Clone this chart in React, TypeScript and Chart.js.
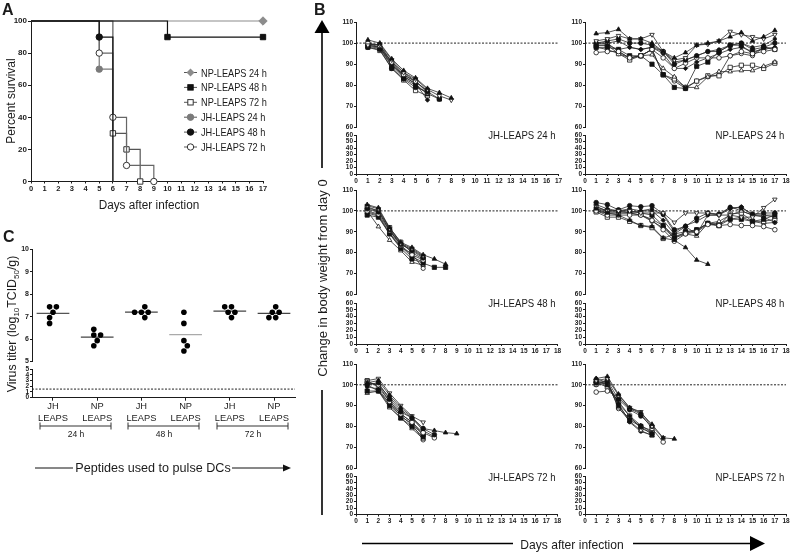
import React, { useEffect, useRef } from 'react';
import { Chart, registerables } from 'chart.js';

Chart.register(...registerables);

const PAGE_W = 791;
const PAGE_H = 555;
const FONT = '"Liberation Sans", Arial, Helvetica, sans-serif';
const INK = '#1b1b1b';

// ================= Panel A: survival (Kaplan-Meier) =================
const survivalLabels = ['NP-LEAPS 24 h', 'NP-LEAPS 48 h', 'NP-LEAPS 72 h', 'JH-LEAPS 24 h', 'JH-LEAPS 48 h', 'JH-LEAPS 72 h'];
const npLeaps24Days = [0, 17];
const npLeaps24Survival = [100, 100];
const npLeaps48Days = [0, 10, 17];
const npLeaps48Survival = [100, 90, 90];
const npLeaps72Days = [0, 6, 7, 8];
const npLeaps72Survival = [100, 30, 20, 0];
const jhLeaps24Days = [0, 5, 6];
const jhLeaps24Survival = [100, 70, 0];
const jhLeaps48Days = [0, 5, 6];
const jhLeaps48Survival = [100, 90, 0];
const jhLeaps72Days = [0, 5, 6, 7, 9];
const jhLeaps72Survival = [100, 80, 40, 10, 0];
const survivalMaxDay = 17;

// ================= Panel C: virus titers =================
const titerGroups = ['JH LEAPS', 'NP LEAPS', 'JH LEAPS', 'NP LEAPS', 'JH LEAPS', 'NP LEAPS'];
const titerTimepoints = ['24 h', '48 h', '72 h'];
const titerJH24 = [7.44, 7.2, 7.44, 6.96, 6.7];
const titerNP24 = [6.18, 6.18, 6.44, 5.93, 5.7];
const titerJH48 = [7.2, 7.44, 7.2, 6.96, 7.2];
const titerNP48 = [7.2, 6.7, 5.93, 5.7, 5.47];
const titerJH72 = [7.2, 7.44, 7.44, 6.96, 7.2];
const titerNP72 = [7.2, 7.44, 6.96, 6.96, 7.2];
const detectionLimit = 1.5;

// ================= Panel B: body weight (% of day 0), day 1 onward =================
const jhLeaps24Weights = [
  [101.5, 100, 92.5, 87, 83.5, 78.5, 76.5, 74],
  [99, 99.5, 92, 86, 83, 78, 75, 73],
  [98, 97, 88, 83, 79, 77, 73.5],
  [100, 98, 91, 85, 82, 76.5],
  [99, 98, 90, 84, 81, 73],
  [98.5, 97.5, 89, 83.5, 80, 76, 73.5],
  [99.5, 99, 91, 86, 82, 77],
  [98, 96.5, 88, 82.5, 77.5, 75],
  [100, 99, 90.5, 84.5, 80.5, 76],
  [99, 98, 89.5, 85, 81.5, 77.5],
];
const npLeaps24Weights = [
  [104.5, 105, 106.5, 102, 102, 100, 96, 93, 95.5, 99, 100, 101, 103, 105, 101, 103, 106],
  [101, 102, 103.5, 102, 102, 104, 96, 92, 93, 99, 99.5, 101, 105.5, 104, 103, 102, 104],
  [100, 101, 102, 100, 100, 99, 96, 90, 92, 94, 96, 96, 99, 100, 97, 98, 100],
  [95.5, 96, 96, 93, 94, 97, 93, 88, 90.5, 93, 93, 93, 94, 96, 95, 96, 97],
  [99, 99, 97, 98, 97, 98, 95, 88, 88, 91, 93, 95, 97, 98, 96, 97, 98],
  [98, 98, 97, 94, 94, 90, 85, 79, 78.5, 89, 91, 96, 99, 99, 95, 98, 97],
  [100, 100, 96, 93, 94, 94.5, 88, 84, 79, 79, 84, 86.5, 86.5, 87, 87, 89, 91],
  [99, 99, 95, 92, 94, 97, 85, 83, 79, 82, 84.5, 84.5, 88.5, 89.5, 89.5, 88, 90.5],
  [98, 97, 95, 93, 94, 97, 85, 82, 78.5, 82, 84, 85, 94, 95, 94, 98, 97.5],
  [100, 100, 101, 98, 97, 98, 96, 91, 92, 94, 96, 97, 99, 100, 98, 99, 102],
];
const jhLeaps48Weights = [
  [103, 101.5, 92, 85, 82.5, 79, 77, 74.5],
  [102.5, 101, 91.5, 84.5, 82, 78.5],
  [101, 99.5, 91, 84, 81, 77.5],
  [100, 98.5, 90.5, 83.5, 79, 76.5],
  [99.5, 98, 89.5, 83, 78, 75.5],
  [98, 97, 89, 82, 77, 75, 73, 73],
  [100, 92.5, 86, 81, 75.5, 74],
  [101.5, 100, 92, 85, 80, 77],
  [99, 97.5, 89, 82.5, 79.5, 72.5],
  [102, 100, 90.5, 84, 81.5, 78],
];
const npLeaps48Weights = [
  [101, 99, 98, 95.5, 93, 92.5, 87, 86, 82.5, 76.5, 74.5],
  [102, 100, 100, 100, 99, 99, 99, 94.5, 99, 99, 99, 98, 98, 97, 97, 101.5, 105.5],
  [104, 103, 100.5, 102.5, 102, 102.5, 98.5, 91, 92.5, 96.5, 99, 98.5, 101.5, 101.5, 98.5, 99, 99],
  [100, 98, 98, 98, 98, 95.5, 91, 85.5, 89, 90, 93.5, 93, 93.5, 93, 93, 92.5, 91],
  [103, 101, 100, 99, 100, 100, 95.5, 89, 92.5, 89, 98, 98, 101, 102, 98, 97, 94.5],
  [101, 100, 100, 100, 99, 98, 93, 87, 90, 91, 94, 93, 96, 96, 95, 96, 98],
  [100, 99, 99, 99, 98, 96, 93, 88, 89, 88, 94, 95, 98, 100, 98, 98, 97],
  [99.5, 97, 97, 95, 93, 92, 86.8, 89, 90, 90.5, 94, 93, 98.5, 99, 95, 95, 96],
  [100, 99, 99, 99, 98, 95, 92, 87, 89, 91, 94, 94, 96, 97, 95, 94, 94.5],
  [102, 100, 100, 101, 100, 101, 98, 90, 93, 95, 98, 98, 102, 100, 98, 98, 98],
];
const jhLeaps72Weights = [
  [101, 102, 95, 89, 84.5, 79, 78, 77, 76.5],
  [102, 103, 96, 90, 85, 82],
  [100, 101, 93, 87, 84, 79, 76],
  [101, 100, 92, 86, 82, 77, 74.5],
  [99, 98, 91, 85, 81, 76],
  [97, 97, 90, 84, 80, 75],
  [96, 97, 89, 84, 79, 74],
  [102, 99, 92, 86, 82, 76],
  [100, 97, 91, 85, 81, 73.5],
  [101, 100, 94, 88, 84, 78, 75],
];
const npLeaps72Weights = [
  [103, 104, 95.5, 89, 86.5, 81, 74.5, 74],
  [102, 103, 95, 89, 87, 80, 74.5],
  [101, 102, 93, 88, 85, 80],
  [96.5, 97, 94, 88.5, 86, 79, 72.5],
  [101, 101, 91, 85, 80.5, 77],
  [102, 100, 90, 83, 80, 76],
  [100, 101, 89, 82.5, 78, 75.5],
  [101, 99, 92, 85, 79, 77],
  [100, 102, 88.5, 84, 80, 78],
  [103, 101, 91, 82, 77.5, 76],
];
const weightPanelTitles = ['JH-LEAPS 24 h', 'NP-LEAPS 24 h', 'JH-LEAPS 48 h', 'NP-LEAPS 48 h', 'JH-LEAPS 72 h', 'NP-LEAPS 72 h'];
const weightPanelData = [jhLeaps24Weights, npLeaps24Weights, jhLeaps48Weights, npLeaps48Weights, jhLeaps72Weights, npLeaps72Weights];
const weightPanelLastDay = [17, 18, 18, 18, 18, 18];
const baselineWeight = 100;

// ================= layout & style (not data) =================
type Area = { left: number; top: number; right: number; bottom: number };

const areaA: Area = { left: 31, top: 21, right: 263, bottom: 181.5 };
const areaCUpper: Area = { left: 32, top: 249.5, right: 295, bottom: 361.5 };
const areaCLower: Area = { left: 32, top: 369, right: 295, bottom: 397.7 };
const bCols = [
  { left: 356, right: 557.5 },
  { left: 585, right: 786 },
];
const bRows = [
  { upper: [22, 127.5], lower: [135, 174], labelY: 134.5 },
  { upper: [190, 294.5], lower: [303, 344], labelY: 303 },
  { upper: [364, 468], lower: [476, 514.5], labelY: 476.5 },
];
const bLabelRight = [556, 784];

const survivalStyle = [
  { line: '#8c8c8c', point: 'rectRot', fill: '#8c8c8c', stroke: '#8c8c8c', r: 4.2, markLast: true },
  { line: '#111', point: 'rect', fill: '#111', stroke: '#111', r: 3.8, markLast: true },
  { line: '#555', point: 'rect', fill: '#fff', stroke: '#333', r: 3.8, markLast: true },
  { line: '#7a7a7a', point: 'circle', fill: '#7a7a7a', stroke: '#7a7a7a', r: 3.2, markLast: false },
  { line: '#111', point: 'circle', fill: '#111', stroke: '#111', r: 3.2, markLast: false },
  { line: '#666', point: 'circle', fill: '#fff', stroke: '#333', r: 3.2, markLast: true },
];
const meanColors = ['#555', '#444', '#444', '#aaa', '#444', '#444'];

const markerCycle = [
  { style: 'triangle', filled: true, r: 2.6, rot: 0 },
  { style: 'triangle', filled: false, r: 2.6, rot: 180 },
  { style: 'circle', filled: true, r: 2.3, rot: 0 },
  { style: 'circle', filled: false, r: 2.3, rot: 0 },
  { style: 'rectRot', filled: true, r: 2.2, rot: 0 },
  { style: 'rect', filled: true, r: 3.0, rot: 0 },
  { style: 'triangle', filled: false, r: 2.6, rot: 0 },
  { style: 'rect', filled: false, r: 3.0, rot: 0 },
  { style: 'circle', filled: false, r: 2.1, rot: 0 },
  { style: 'circle', filled: true, r: 1.7, rot: 0 },
];

function layoutPadding(a: Area, yW: number, xH: number) {
  return { left: a.left - yW, top: a.top, right: PAGE_W - a.right, bottom: PAGE_H - a.bottom - xH };
}

function yAxis(min: number, max: number, step: number, width: number, size: number, tickLen: number) {
  return {
    type: 'linear',
    position: 'left',
    min,
    max,
    afterFit: (s: any) => {
      s.width = width;
    },
    ticks: { stepSize: step, autoSkip: false, padding: 1, color: INK, font: { family: FONT, size, weight: 'bold' } },
    grid: { drawOnChartArea: false, drawTicks: true, tickLength: tickLen, color: INK, lineWidth: 1 },
    border: { display: true, color: INK, width: 1 },
  };
}

function xAxis(min: number, max: number, height: number, size: number, tickLen: number, visible: boolean) {
  return {
    type: 'linear',
    position: 'bottom',
    min,
    max,
    display: visible,
    afterFit: (s: any) => {
      s.height = height;
    },
    ticks: {
      stepSize: 1,
      autoSkip: false,
      maxRotation: 0,
      minRotation: 0,
      padding: 1,
      color: INK,
      font: { family: FONT, size, weight: 'bold' },
    },
    grid: { drawOnChartArea: false, drawTicks: true, tickLength: tickLen, color: INK, lineWidth: 1 },
    border: { display: true, color: INK, width: 1 },
  };
}

function baseOptions(area: Area, yW: number, xH: number, scales: any) {
  return {
    responsive: false,
    animation: false,
    devicePixelRatio: 1,
    events: [],
    layout: { padding: layoutPadding(area, yW, xH) },
    plugins: { legend: { display: false }, tooltip: { enabled: false }, title: { display: false } },
    scales,
  };
}

// ---------- configs ----------
function survivalConfig(): any {
  const series = [
    [npLeaps24Days, npLeaps24Survival],
    [npLeaps48Days, npLeaps48Survival],
    [npLeaps72Days, npLeaps72Survival],
    [jhLeaps24Days, jhLeaps24Survival],
    [jhLeaps48Days, jhLeaps48Survival],
    [jhLeaps72Days, jhLeaps72Survival],
  ];
  const drawOrder = [4, 1, 5, 2, 3, 0];
  const datasets = drawOrder.map((g) => {
    const [days, pct] = series[g];
    const st = survivalStyle[g];
    return {
      label: survivalLabels[g],
      data: days.map((d, i) => ({ x: d, y: pct[i] })),
      stepped: true,
      borderColor: st.line,
      borderWidth: 1.2,
      pointStyle: st.point,
      pointRadius: days.map((d, i) => (d === 0 ? 0 : i === days.length - 1 && !st.markLast ? 0 : st.r)),
      pointBackgroundColor: st.fill,
      pointBorderColor: st.stroke,
      pointBorderWidth: 1,
      clip: false,
    };
  });
  return {
    type: 'line',
    data: { datasets },
    options: baseOptions(areaA, 22, 12, {
      x: xAxis(0, survivalMaxDay, 12, 7.5, 2, true),
      y: yAxis(0, 100, 20, 22, 8, 3),
    }),
  };
}

function swarmOffsets(values: number[], pxPerY: number, pxPerX: number) {
  const placed: { dx: number; y: number }[] = [];
  const minDist = 5.8;
  const step = 3.4;
  const offs = values.map((v) => {
    for (let k = 0; k < 30; k++) {
      const off = (k % 2 === 1 ? 1 : -1) * Math.ceil(k / 2) * step;
      const ok = placed.every((p) => Math.hypot(p.dx - off, (p.y - v) * pxPerY) >= minDist);
      if (ok) {
        placed.push({ dx: off, y: v });
        return off;
      }
    }
    return 0;
  });
  const mid = (Math.max(...offs) + Math.min(...offs)) / 2;
  return offs.map((o) => (o - mid) / pxPerX);
}

function titerUpperConfig(): any {
  const groups = [titerJH24, titerNP24, titerJH48, titerNP48, titerJH72, titerNP72];
  const xMin = -0.475;
  const xMax = 5.475;
  const pxPerX = (areaCUpper.right - areaCUpper.left) / (xMax - xMin);
  const pxPerY = (areaCUpper.bottom - areaCUpper.top) / 5;
  const dots: { x: number; y: number }[] = [];
  groups.forEach((vals, i) => {
    const offs = swarmOffsets(vals, pxPerY, pxPerX);
    vals.forEach((v, k) => dots.push({ x: i + offs[k], y: v }));
  });
  const means = groups.map((vals, i) => {
    const m = vals.reduce((a, b) => a + b, 0) / vals.length;
    return {
      type: 'line',
      data: [
        { x: i - 0.37, y: m },
        { x: i + 0.37, y: m },
      ],
      showLine: true,
      borderColor: meanColors[i],
      borderWidth: 1.3,
      pointRadius: 0,
      clip: false,
    };
  });
  return {
    type: 'scatter',
    data: {
      datasets: [
        { data: dots, pointRadius: 2.8, pointBackgroundColor: '#000', pointBorderColor: '#000', pointBorderWidth: 0, clip: false },
        ...means,
      ],
    },
    options: baseOptions(areaCUpper, 14, 0, {
      x: xAxis(xMin, xMax, 0, 7, 2, false),
      y: yAxis(5, 10, 1, 14, 7, 2),
    }),
  };
}

function titerLowerConfig(): any {
  const xMin = -0.475;
  const xMax = 5.475;
  const x: any = xAxis(xMin, xMax, 30, 9.3, 3, true);
  x.afterBuildTicks = (s: any) => {
    s.ticks = titerGroups.map((_, i) => ({ value: i }));
  };
  x.ticks = {
    autoSkip: false,
    maxRotation: 0,
    minRotation: 0,
    padding: 0,
    color: INK,
    font: { family: FONT, size: 9.3, lineHeight: 1.3 },
    callback: (v: number) => {
      const lbl = titerGroups[Math.round(v)];
      return lbl ? lbl.split(' ') : '';
    },
  };
  return {
    type: 'line',
    data: {
      datasets: [
        {
          data: [
            { x: xMin, y: detectionLimit },
            { x: xMax, y: detectionLimit },
          ],
          borderColor: '#222',
          borderWidth: 1,
          borderDash: [2, 1.5],
          pointRadius: 0,
          clip: false,
        },
      ],
    },
    options: baseOptions(areaCLower, 14, 30, { x, y: yAxis(0, 5, 1, 14, 6.5, 2) }),
  };
}

function weightUpperConfig(idx: number, area: Area): any {
  const weights = weightPanelData[idx];
  const lastDay = weightPanelLastDay[idx];
  const datasets: any[] = weights.map((w, k) => {
    const m = markerCycle[k % markerCycle.length];
    return {
      data: w.map((v, d) => ({ x: d + 1, y: v })),
      borderColor: '#2a2a2a',
      borderWidth: 0.8,
      pointStyle: m.style,
      pointRadius: m.r,
      pointRotation: m.rot,
      pointBackgroundColor: m.filled ? '#111' : '#fff',
      pointBorderColor: '#111',
      pointBorderWidth: 0.8,
      clip: false,
    };
  });
  datasets.push({
    data: [
      { x: 0, y: baselineWeight },
      { x: lastDay, y: baselineWeight },
    ],
    borderColor: '#222',
    borderWidth: 1,
    borderDash: [2, 1.5],
    pointRadius: 0,
    clip: false,
  });
  return {
    type: 'line',
    data: { datasets },
    options: baseOptions(area, 18, 0, {
      x: xAxis(0, lastDay, 0, 6.5, 2, false),
      y: yAxis(60, 110, 10, 18, 6.5, 2),
    }),
  };
}

function weightLowerConfig(idx: number, area: Area): any {
  const lastDay = weightPanelLastDay[idx];
  return {
    type: 'line',
    data: { datasets: [] },
    options: baseOptions(area, 18, 10, {
      x: xAxis(0, lastDay, 10, 6.5, 2, true),
      y: yAxis(0, 60, 10, 18, 6.5, 2),
    }),
  };
}

// ---------- components ----------
function ChartLayer({ make }: { make: () => any }) {
  const ref = useRef<HTMLCanvasElement>(null);
  useEffect(() => {
    const chart = new Chart(ref.current as HTMLCanvasElement, make());
    return () => chart.destroy();
  }, []);
  return (
    <canvas
      ref={ref}
      width={PAGE_W}
      height={PAGE_H}
      style={{ position: 'absolute', left: 0, top: 0, width: PAGE_W, height: PAGE_H }}
    />
  );
}

type TxtProps = {
  x: number;
  y: number;
  size: number;
  bold?: boolean;
  align?: 'left' | 'center' | 'right';
  rotate?: boolean;
  sx?: number;
  children: React.ReactNode;
};

function Txt({ x, y, size, bold, align = 'center', rotate, sx = 1, children }: TxtProps) {
  const style: React.CSSProperties = {
    position: 'absolute',
    top: y,
    whiteSpace: 'nowrap',
    lineHeight: 1,
    fontSize: size,
    fontWeight: bold ? 700 : 400,
    color: INK,
    fontFamily: FONT,
  };
  if (rotate) {
    style.left = x;
    style.transform = 'translate(-50%, -50%) rotate(-90deg)';
  } else if (align === 'center') {
    style.left = x;
    style.transform = `translate(-50%, -50%) scaleX(${sx})`;
  } else if (align === 'left') {
    style.left = x;
    style.transformOrigin = '0 50%';
    style.transform = `translateY(-50%) scaleX(${sx})`;
  } else {
    style.right = PAGE_W - x;
    style.transformOrigin = '100% 50%';
    style.transform = `translateY(-50%) scaleX(${sx})`;
  }
  return <div style={style}>{children}</div>;
}

const legendX = 190.5;
const legendYs = survivalLabels.map((_, i) => 72.5 + i * 14.9);

function LegendMarker({ i, y }: { i: number; y: number }) {
  const c = legendX;
  const st = survivalStyle[i];
  if (st.point === 'rectRot')
    return <polygon points={`${c},${y - 4} ${c + 4},${y} ${c},${y + 4} ${c - 4},${y}`} fill={st.fill} />;
  if (st.point === 'rect')
    return <rect x={c - 2.7} y={y - 2.7} width={5.4} height={5.4} fill={st.fill} stroke={st.stroke} strokeWidth={1} />;
  return <circle cx={c} cy={y} r={3.2} fill={st.fill} stroke={st.stroke} strokeWidth={1} />;
}

const bracketSpans = [
  [40, 111],
  [128, 199],
  [217, 288],
];

export default function App() {
  return (
    <div
      style={{
        position: 'absolute',
        left: 0,
        top: 0,
        width: PAGE_W,
        height: PAGE_H,
        background: '#fff',
        overflow: 'hidden',
        fontFamily: FONT,
      }}
    >
      <ChartLayer make={survivalConfig} />
      <ChartLayer make={titerUpperConfig} />
      <ChartLayer make={titerLowerConfig} />
      {weightPanelTitles.map((_, i) => {
        const col = bCols[i % 2];
        const row = bRows[Math.floor(i / 2)];
        const right = i === 0 ? 558.5 : col.right;
        const up: Area = { left: col.left, right, top: row.upper[0], bottom: row.upper[1] };
        const lo: Area = { left: col.left, right, top: row.lower[0], bottom: row.lower[1] };
        return (
          <React.Fragment key={i}>
            <ChartLayer make={() => weightUpperConfig(i, up)} />
            <ChartLayer make={() => weightLowerConfig(i, lo)} />
          </React.Fragment>
        );
      })}

      <svg
        width={PAGE_W}
        height={PAGE_H}
        style={{ position: 'absolute', left: 0, top: 0, pointerEvents: 'none' }}
      >
        {legendYs.map((y, i) => (
          <g key={i}>
            <line x1={184} x2={197} y1={y} y2={y} stroke="#555" strokeWidth={1} />
            <LegendMarker i={i} y={y} />
          </g>
        ))}
        {bracketSpans.map(([a, b], i) => (
          <g key={i} stroke="#333" strokeWidth={1}>
            <line x1={a} x2={b} y1={426} y2={426} />
            <line x1={a} x2={a} y1={422.5} y2={429.5} />
            <line x1={b} x2={b} y1={422.5} y2={429.5} />
          </g>
        ))}
        <line x1={35} x2={73} y1={468} y2={468} stroke="#111" strokeWidth={1} />
        <line x1={232} x2={284} y1={468} y2={468} stroke="#111" strokeWidth={1} />
        <polygon points="291,468 283,464.5 283,471.5" fill="#111" />
        <line x1={322} x2={322} y1={32} y2={168} stroke="#000" strokeWidth={1.6} />
        <polygon points="322,20 314.5,33 329.5,33" fill="#000" />
        <line x1={322} x2={322} y1={390} y2={515} stroke="#000" strokeWidth={1.6} />
        <line x1={362} x2={513} y1={543.5} y2={543.5} stroke="#000" strokeWidth={1.6} />
        <line x1={633} x2={752} y1={543.5} y2={543.5} stroke="#000" strokeWidth={1.6} />
        <polygon points="765,543.5 750,536 750,551" fill="#000" />
      </svg>

      <Txt x={2} y={9.5} size={16} bold align="left">
        A
      </Txt>
      <Txt x={3} y={236.5} size={16} bold align="left">
        C
      </Txt>
      <Txt x={314} y={10} size={16} bold align="left">
        B
      </Txt>

      <Txt x={11} y={101} size={12} rotate>
        Percent survival
      </Txt>
      <Txt x={149} y={205} size={12.5} sx={0.94}>
        Days after infection
      </Txt>
      {survivalLabels.map((l, i) => (
        <Txt key={l} x={201} y={legendYs[i]} size={10.5} sx={0.875} align="left">
          {l}
        </Txt>
      ))}

      <Txt x={12} y={324} size={12.3} rotate>
        Virus titer (log<sub style={{ fontSize: '0.65em', lineHeight: 0 }}>10</sub>TCID
        <sub style={{ fontSize: '0.65em', lineHeight: 0 }}>50</sub>/g)
      </Txt>
      {titerTimepoints.map((t, i) => (
        <Txt key={t} x={(bracketSpans[i][0] + bracketSpans[i][1]) / 2} y={434} size={9.5} sx={0.9}>
          {t}
        </Txt>
      ))}
      <Txt x={153} y={468} size={12.6}>
        Peptides used to pulse DCs
      </Txt>

      <Txt x={322} y={278} size={13} rotate>
        Change in body weight from day 0
      </Txt>
      <Txt x={572} y={543.5} size={13} sx={0.93}>
        Days after infection
      </Txt>
      {weightPanelTitles.map((t, i) => (
        <Txt key={t} x={bLabelRight[i % 2]} y={bRows[Math.floor(i / 2)].labelY} size={10.8} sx={0.89} align="right">
          {t}
        </Txt>
      ))}
    </div>
  );
}
